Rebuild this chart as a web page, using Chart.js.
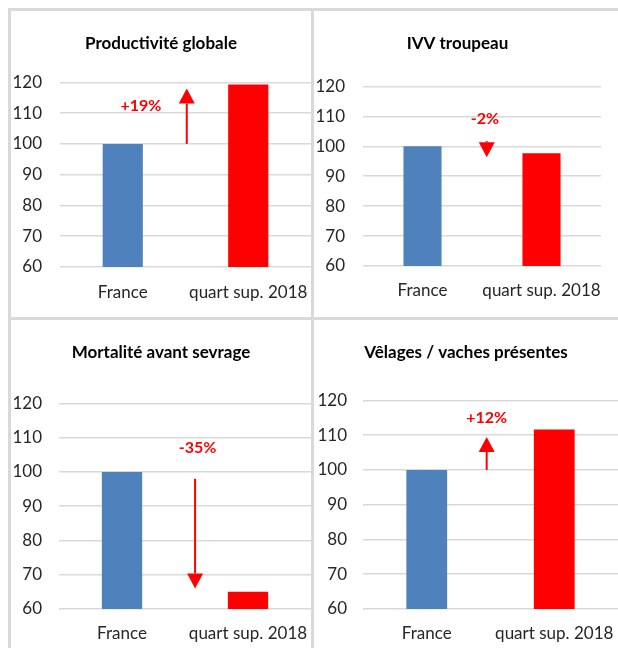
<!DOCTYPE html>
<html>
<head>
<meta charset="utf-8">
<script src="https://cdn.jsdelivr.net/npm/chart.js@4/dist/chart.umd.min.js"></script>
<style>
  body { margin: 0; background: #fff; width: 618px; height: 648px; overflow: hidden; position: relative; }
  .line { position: absolute; background: #d9d9d9; }
  canvas { position: absolute; }
</style>
</head>
<body>
<div class="line" style="left:8px;top:8px;width:610px;height:3px"></div>
<div class="line" style="left:8px;top:8px;width:3px;height:640px"></div>
<div class="line" style="left:311px;top:8px;width:3px;height:640px"></div>
<div class="line" style="left:8px;top:317px;width:610px;height:3px"></div>

<canvas id="c1" width="300" height="306" style="left:11px;top:11px"></canvas>
<canvas id="c2" width="304" height="306" style="left:314px;top:11px"></canvas>
<canvas id="c3" width="300" height="328" style="left:11px;top:320px"></canvas>
<canvas id="c4" width="304" height="328" style="left:314px;top:320px"></canvas>

<script>
// Data
const categories = ['France', 'quart sup. 2018'];
const titles = ['Productivité globale', 'IVV troupeau', 'Mortalité avant sevrage', 'Vêlages / vaches présentes'];
const productivite = [100, 119.3];
const ivvTroupeau = [100, 97.7];
const mortalite = [100, 65];
const velages = [100, 111.6];
const ecarts = ['+19%', '-2%', '-35%', '+12%'];
const yMin = 60;
const yMax = 120;
const yStep = 10;

const barColors = ['#4f81bd', '#ff0000'];

Chart.defaults.font.family = 'Lato, "Open Sans", sans-serif';

// red "ecart" label + arrow, placed in data coordinates
const ecartPlugin = {
  id: 'ecart',
  afterDatasetsDraw(chart, args, opts) {
    const { ctx, scales: { x, y } } = chart;
    ctx.save();
    ctx.fillStyle = '#ff0000';
    ctx.strokeStyle = '#ff0000';
    ctx.font = 'bold 16px Lato, "Open Sans", sans-serif';
    ctx.textAlign = 'center';
    ctx.textBaseline = 'middle';
    ctx.fillText(opts.text, x.getPixelForValue(opts.textX), y.getPixelForValue(opts.textY));

    const ax = x.getPixelForValue(opts.arrowX);
    const y0 = y.getPixelForValue(opts.from);
    const y1 = y.getPixelForValue(opts.to);
    const dir = y1 < y0 ? -1 : 1;
    const headLen = 15, headW = 8;
    const base = y1 - dir * headLen;
    if ((base - y0) * dir > 0) {
      ctx.lineWidth = 2;
      ctx.beginPath();
      ctx.moveTo(ax, y0);
      ctx.lineTo(ax, base);
      ctx.stroke();
    }
    ctx.beginPath();
    ctx.moveTo(ax - headW, base);
    ctx.lineTo(ax + headW, base);
    ctx.lineTo(ax, y1);
    ctx.closePath();
    ctx.fill();
    ctx.restore();
  }
};

function makeChart(id, title, values, ecart, box) {
  new Chart(document.getElementById(id), {
    type: 'bar',
    data: {
      labels: categories,
      datasets: [{
        data: values,
        backgroundColor: barColors,
        barPercentage: 0.32,
        categoryPercentage: 1
      }]
    },
    options: {
      responsive: false,
      animation: false,
      layout: { autoPadding: false, padding: { top: 0, left: 0, right: box.right, bottom: 0 } },
      plugins: {
        legend: { display: false },
        tooltip: { enabled: false },
        title: {
          display: true,
          text: title,
          color: '#000',
          font: { size: 17, weight: 'bold', lineHeight: 1.2 },
          padding: { top: box.titleTop, bottom: box.titleBottom }
        },
        ecart: ecart
      },
      scales: {
        x: {
          grid: { display: false, drawTicks: false },
          border: { display: false },
          ticks: { color: '#262626', font: { size: 17 }, padding: box.xPad, maxRotation: 0, autoSkip: false },
          afterFit: s => {
            s.height = box.xHeight;
            s.paddingLeft = 0;
            s.paddingRight = 0;
          }
        },
        y: {
          min: yMin,
          max: yMax,
          grid: { color: '#d9d9d9', lineWidth: 1.5, drawTicks: false },
          border: { display: false },
          ticks: { stepSize: yStep, color: '#262626', font: { size: 17 }, padding: box.yPad },
          afterFit: s => { s.width = box.yWidth; }
        }
      }
    },
    plugins: [ecartPlugin]
  });
}

makeChart('c1', titles[0], productivite,
  { text: ecarts[0], textX: 0.145, textY: 112.5, arrowX: 0.51, from: 100, to: 118 },
  { right: 0, titleTop: 22, titleBottom: 29, xPad: 15, xHeight: 50, yPad: 18, yWidth: 49 });

makeChart('c2', titles[1], ivvTroupeau,
  { text: ecarts[1], textX: 0.525, textY: 109.3, arrowX: 0.54, from: 101.7, to: 96.3 },
  { right: 17, titleTop: 22, titleBottom: 33, xPad: 14, xHeight: 51, yPad: 18, yWidth: 49 });

makeChart('c3', titles[2], mortalite,
  { text: ecarts[2], textX: 0.6, textY: 107, arrowX: 0.58, from: 98, to: 66 },
  { right: 0, titleTop: 22, titleBottom: 41, xPad: 14, xHeight: 39, yPad: 17, yWidth: 48 });

makeChart('c4', titles[3], velages,
  { text: ecarts[3], textX: 0.47, textY: 115, arrowX: 0.47, from: 100, to: 109.5 },
  { right: 0, titleTop: 22, titleBottom: 38, xPad: 14, xHeight: 39, yPad: 16, yWidth: 49 });
</script>
</body>
</html>
